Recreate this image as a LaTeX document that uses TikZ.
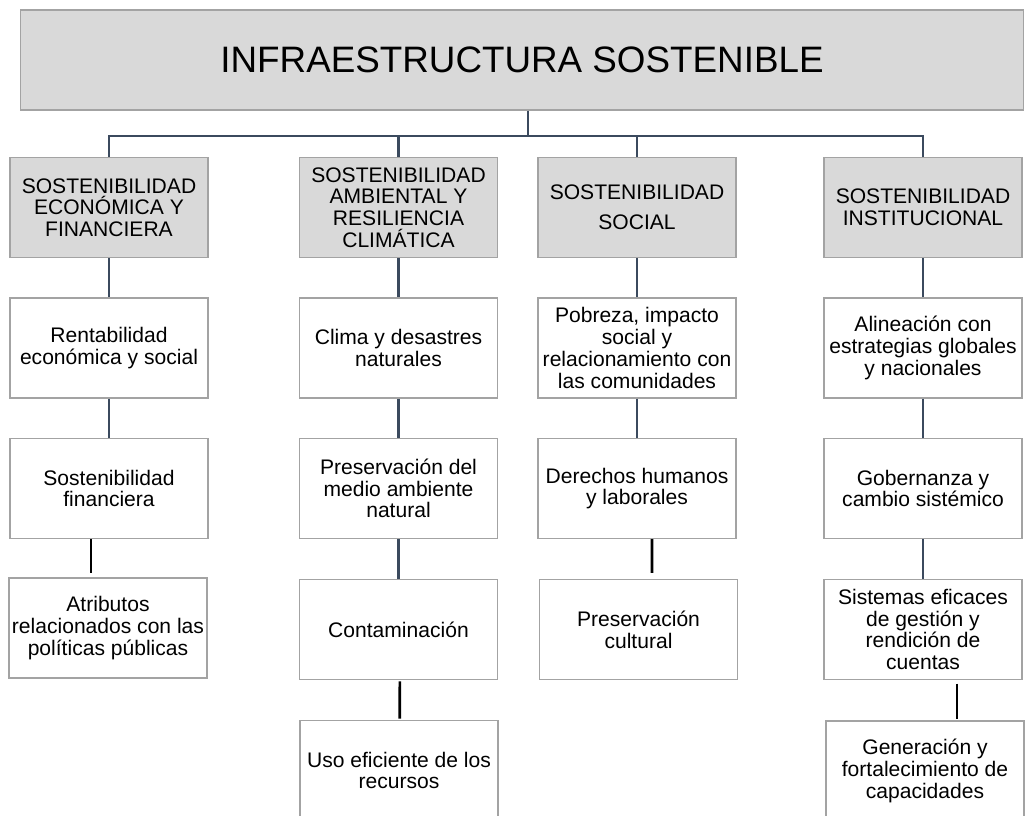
\documentclass[tikz,border=0pt]{standalone}
\usepackage{fontspec}
\setmainfont{Liberation Sans}

\definecolor{grisrelleno}{HTML}{D9D9D9}
\definecolor{grisborde}{HTML}{A3A3A3}
\definecolor{pizarra}{HTML}{3B4A5E}

\tikzset{
  caja/.style={draw=grisborde, line width=0.8pt, fill=white,
    minimum width=148.5pt, minimum height=75pt, inner sep=2pt,
    align=center, font=\fontsize{15.8}{16.3}\selectfont},
  cabecera/.style={caja, fill=grisrelleno},
  enlace/.style={draw=pizarra, line width=2pt},
  enlacenegro/.style={draw=black, line width=2pt},
}

\begin{document}
\begin{tikzpicture}[x=0.75pt,y=-0.75pt,line cap=butt,line join=miter]
  \clip (0,0) rectangle (1028,816);

  % titulo
  \node[cabecera, minimum width=752pt, font=\fontsize{27.6}{30}\selectfont]
    (infra) at (522,60) {INFRAESTRUCTURA SOSTENIBLE};

  % ejes
  \node[cabecera] (eco) at (109,207.5)
    {SOSTENIBILIDAD\\ECONÓMICA Y\\FINANCIERA};
  \node[cabecera] (amb) at (398.5,207.5)
    {SOSTENIBILIDAD\\AMBIENTAL Y\\RESILIENCIA\\CLIMÁTICA};
  \node[cabecera] (soc) at (637,207.5)
    {SOSTENIBILIDAD\\[6pt]SOCIAL};
  \node[cabecera] (ins) at (923,207.5)
    {SOSTENIBILIDAD\\INSTITUCIONAL};

  % economica
  \node[caja] (eco1) at (109,348) {Rentabilidad\\económica y social};
  \node[caja] (eco2) at (109,488.5) {Sostenibilidad\\financiera};
  \node[caja] (eco3) at (108,628)
    {Atributos\\relacionados con las\\políticas públicas};

  % ambiental
  \node[caja] (amb1) at (398.5,348) {Clima y desastres\\naturales};
  \node[caja] (amb2) at (398.5,488.5)
    {Preservación del\\medio ambiente\\natural};
  \node[caja] (amb3) at (398.5,629.5) {Contaminación};
  \node[caja] (amb4) at (399,770.5) {Uso eficiente de los\\recursos};

  % social
  \node[caja] (soc1) at (637,348)
    {Pobreza, impacto\\social y\\relacionamiento con\\las comunidades};
  \node[caja] (soc2) at (637,488.5) {Derechos humanos\\y laborales};
  \node[caja] (soc3) at (638.5,629.5) {Preservación\\cultural};

  % institucional
  \node[caja] (ins1) at (923,348)
    {Alineación con\\estrategias globales\\y nacionales};
  \node[caja] (ins2) at (923,488.5) {Gobernanza y\\cambio sistémico};
  \node[caja] (ins3) at (923,629.5)
    {Sistemas eficaces\\de gestión y\\rendición de\\cuentas};
  \node[caja] (ins4) at (925,771)
    {Generación y\\fortalecimiento de\\capacidades};

  % barra superior
  \coordinate (barra) at (528,136);
  \draw[enlace] (infra.south -| barra) -- (barra);
  \draw[enlace] (eco.north) -- (eco.north |- barra) -- (ins.north |- barra)
    -- (ins.north);
  \draw[enlace] (amb.north) -- (amb.north |- barra);
  \draw[enlace] (soc.north) -- (soc.north |- barra);

  % columnas
  \foreach \a/\b in {eco/eco1,eco1/eco2,amb/amb1,amb1/amb2,amb2/amb3,
                     soc/soc1,soc1/soc2,ins/ins1,ins1/ins2,ins2/ins3} {
    \draw[enlace] (\a.south) -- (\b.north);
  }
  \draw[enlacenegro] ([xshift=-13.5pt]eco2.south)
    -- ([xshift=-12.75pt,yshift=3pt]eco3.north);
  \draw[enlacenegro] ([xshift=1pt,yshift=-1pt]amb3.south)
    -- ([xshift=0.6pt,yshift=1pt]amb4.north);
  \draw[enlacenegro] ([xshift=11.25pt]soc2.south)
    -- ([xshift=10.1pt,yshift=4.5pt]soc3.north);
  \draw[enlacenegro] ([xshift=25.5pt,yshift=-2.6pt]ins3.south)
    -- ([xshift=24pt,yshift=0.75pt]ins4.north);
\end{tikzpicture}
\end{document}
